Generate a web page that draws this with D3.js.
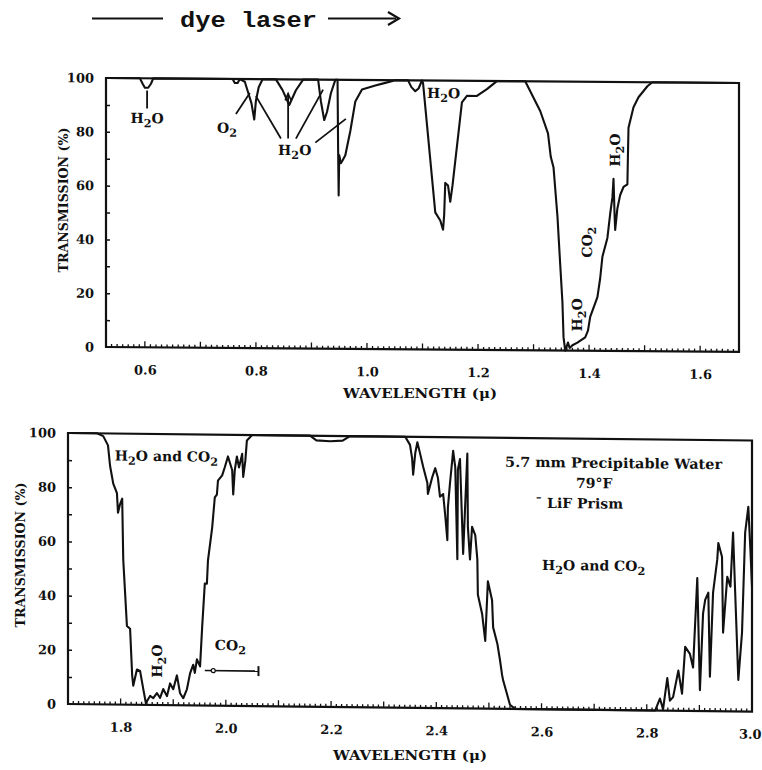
<!DOCTYPE html>
<html>
<head>
<meta charset="utf-8">
<script src="https://cdn.jsdelivr.net/npm/d3@7.9.0/dist/d3.min.js"></script>
<style>
  body { margin: 0; background: #fff; }
  text { font-family: "DejaVu Serif", serif; font-weight: bold; fill: #111; }
</style>
</head>
<body>
<svg id="chart" width="762" height="770"></svg>
<script>
// spectra: [wavelength (micron), transmission (%)]
const topSpectrum = [
  [0.530,100],[0.591,100],[0.596,98],[0.600,96.5],[0.606,96.5],[0.611,98],[0.615,100],
  [0.758,100],[0.762,98.5],[0.767,98.5],[0.771,100],
  [0.780,99],[0.786,95],[0.792,91],[0.797,85],[0.800,92],[0.805,97],[0.812,100],
  [0.836,100],[0.848,96],[0.860,90.5],[0.872,96],[0.885,100],
  [0.912,100],[0.917,92],[0.923,85],[0.928,88],[0.935,95],[0.943,100],
  [0.947,100],[0.948,75],[0.949,57],[0.950,72],[0.953,69],[0.956,70],[0.961,72],
  [0.970,81],[0.979,92],[0.991,96.5],[1.015,98],[1.033,99],[1.051,100],
  [1.074,100],[1.080,97.5],[1.087,96],[1.093,97],[1.099,100],
  [1.101,99],[1.123,51],[1.132,48],[1.137,44.6],[1.139,50],[1.141,62],[1.146,61],
  [1.150,55],[1.154,61],[1.171,92],[1.180,94.4],[1.198,94.4],[1.216,97],[1.234,100],
  [1.285,100],[1.312,89],[1.326,80.7],[1.331,72],[1.336,68],[1.343,50],[1.348,32],
  [1.352,18],[1.354,5],[1.357,0],[1.362,3],[1.365,1],[1.370,2],[1.379,3],[1.393,5],
  [1.398,7.5],[1.402,12.6],[1.415,20],[1.420,27],[1.424,35],[1.433,42],[1.438,51],
  [1.442,57],[1.444,64],[1.446,50],[1.447,45],[1.451,53],[1.456,58],[1.462,61],
  [1.469,62],[1.470,73],[1.471,83],[1.480,90.7],[1.489,94.4],[1.505,98.5],[1.514,100],
  [1.671,100]
];

const bottomSpectrum = [
  [1.700,100],[1.755,100],[1.767,99],[1.776,95.6],[1.780,88],[1.786,81.5],[1.793,78],
  [1.795,70.8],[1.799,74],[1.803,76],[1.805,53.5],[1.812,29],[1.818,28],[1.822,10.7],
  [1.824,7],[1.831,13],[1.837,12.5],[1.843,5.9],[1.848,0.7],[1.856,3.3],[1.862,2.5],
  [1.869,4.4],[1.875,2.6],[1.881,5.9],[1.888,3.3],[1.894,8],[1.900,5.9],[1.907,11],
  [1.913,4.4],[1.919,2.6],[1.926,5.9],[1.932,11.8],[1.938,15],[1.941,12],[1.945,17],
  [1.951,14.4],[1.955,29],[1.960,45],[1.964,45],[1.966,53.5],[1.974,65.7],[1.979,76.8],
  [1.983,77.9],[1.985,83],[1.993,85],[1.998,88],[2.004,92],[2.012,87],[2.014,78],
  [2.017,87],[2.021,92],[2.025,88],[2.031,93],[2.033,84.5],[2.037,90.4],[2.040,98],
  [2.050,100],
  [2.160,100],[2.172,98.3],[2.198,98],[2.222,98.3],[2.236,100],
  [2.341,100],[2.350,97],[2.354,92],[2.356,86],[2.360,94],[2.364,98],[2.369,94],
  [2.375,89],[2.383,83],[2.384,79],[2.392,85],[2.398,88.5],[2.403,85],[2.407,78],
  [2.413,79],[2.417,71],[2.421,62],[2.422,74],[2.426,83],[2.432,95],[2.436,89],
  [2.440,55],[2.441,88],[2.445,92],[2.451,57],[2.459,94],[2.460,67],[2.464,55],
  [2.468,67],[2.474,64],[2.478,55],[2.479,42],[2.487,35],[2.493,25],[2.498,47],
  [2.506,40],[2.508,30],[2.516,24],[2.521,18],[2.525,12.5],[2.527,10.5],[2.535,5],
  [2.540,1.5],[2.550,0],
  [2.816,0],[2.825,4.4],[2.831,0.5],[2.839,12],[2.844,3.7],[2.850,5],[2.860,14.8],
  [2.867,6.3],[2.873,23.6],[2.882,21],[2.888,16],[2.896,49],[2.901,7.7],[2.907,36],
  [2.911,41],[2.917,43.7],[2.920,12.7],[2.926,43.7],[2.934,56],[2.936,62],[2.943,57],
  [2.945,29],[2.953,49.6],[2.959,46],[2.964,66],[2.968,44],[2.974,11.6],[2.981,29],
  [2.987,66],[2.993,75.5],[2.997,59.6],[3.000,46]
];

const yTicks = [0, 20, 40, 60, 80, 100];
const topXTicks = [0.6, 0.8, 1.0, 1.2, 1.4, 1.6];
const bottomXTicks = [1.8, 2.0, 2.2, 2.4, 2.6, 2.8, 3.0];
const tickLabel = d3.format(".1f");

// labels: "_2" is a subscript
const topNotes = [
  { text: "H_2O", at: [0.604, 83.3], anchor: "middle" },
  { text: "O_2", at: [0.730, 80] },
  { text: "H_2O", at: [0.840, 71.9] },
  { text: "H_2O", at: [1.108, 93.5] },
  { text: "H_2O", at: [1.379, 13.3], rotate: -90 },
  { text: "CO_2", at: [1.397, 40.4], rotate: -90 },
  { text: "H_2O", at: [1.447, 74.7], rotate: -90 }
];
const topPointers = [
  [[0.604, 88.8], [0.604, 95.5]],
  [[0.764, 87], [0.789, 94.8]],
  [[0.845, 78], [0.800, 93.7]],
  [[0.858, 78], [0.858, 94.8]],
  [[0.872, 78], [0.921, 96.3]],
  [[0.907, 76.6], [0.962, 85.5]]
];
const bottomNotes = [
  { text: "H_2O and CO_2", at: [1.789, 90] },
  { text: "H_2O", at: [1.869, 16.2], rotate: -90 },
  { text: "CO_2", at: [1.979, 20.5] },
  { text: "5.7 mm Precipitable Water", at: [2.737, 89.3], anchor: "middle", width: 217 },
  { text: "79°F", at: [2.700, 81.8], anchor: "middle" },
  { text: "¯ LiF Prism", at: [2.588, 74.3] },
  { text: "H_2O and CO_2", at: [2.601, 51.4] }
];
const co2Range = [1.960, 2.062, 12.9];

const svg = d3.select("#chart");

function addLabel(g, str, px, py, opt = {}) {
  const size = opt.size || 14;
  const t = g.append("text")
    .attr("font-size", size)
    .attr("text-anchor", opt.anchor || (opt.rotate ? "middle" : "start"));
  if (opt.rotate) {
    t.attr("transform", `translate(${px},${py}) rotate(${opt.rotate})`).attr("x", 0).attr("y", 5);
  } else {
    t.attr("x", px).attr("y", py);
  }
  let down = false;
  str.split(/(_\d)/).filter(s => s).forEach(s => {
    if (s[0] === "_") {
      t.append("tspan").attr("dy", 4).attr("font-size", size * 0.8).text(s.slice(1));
      down = true;
    } else {
      t.append("tspan").attr("dy", down ? -4 : 0).text(s);
      down = false;
    }
  });
  if (opt.width) t.attr("textLength", opt.width).attr("lengthAdjust", "spacingAndGlyphs");
  return t;
}

function panel(cfg) {
  const g = svg.append("g")
    .attr("transform", `translate(${cfg.left},${cfg.top}) skewY(${cfg.skew}) translate(${-cfg.left},${-cfg.top})`);
  const x = d3.scaleLinear().domain(cfg.xDomain).range([cfg.left, cfg.right]);
  const y = d3.scaleLinear().domain([0, 100]).range([cfg.bottom, cfg.top]);

  // minor ticks along the bottom edge, pointing in
  const minor = d3.range(Math.ceil(cfg.xDomain[0] * 100), Math.floor(cfg.xDomain[1] * 100) + 1).map(d => d / 100);
  g.append("g").selectAll("line").data(minor).join("line")
    .attr("x1", d => x(d)).attr("x2", d => x(d))
    .attr("y1", cfg.bottom)
    .attr("y2", d => cfg.bottom - (Math.round(d * 100) % 10 === 0 ? 6 : 3))
    .attr("stroke", "#111").attr("stroke-width", 1.3);

  // inner ticks on the left edge
  g.append("g").attr("transform", `translate(${cfg.left},0)`)
    .call(d3.axisLeft(y).tickValues(d3.range(10, 100, 10)).tickSize(-4).tickFormat(""))
    .call(a => a.select(".domain").remove())
    .selectAll("line").attr("stroke", "#111").attr("stroke-width", 1.5);

  // tick labels
  const ya = g.append("g").attr("transform", `translate(${cfg.left},0)`)
    .call(d3.axisLeft(y).tickValues(yTicks).tickSize(0).tickPadding(12))
    .call(a => a.select(".domain").remove());
  ya.attr("font-family", null).attr("font-size", 13);

  const xa = g.append("g").attr("transform", `translate(0,${cfg.bottom})`)
    .call(d3.axisBottom(x).tickValues(cfg.xTicks).tickSize(0).tickPadding(18).tickFormat(tickLabel))
    .call(a => a.select(".domain").remove());
  xa.attr("font-family", null).attr("font-size", 13);
  // keep a label that sits on the right edge inside the page
  xa.selectAll(".tick text").filter(d => x(d) > 745)
    .attr("text-anchor", "end").attr("dx", 9);

  // frame
  g.append("rect")
    .attr("x", cfg.left).attr("y", cfg.top)
    .attr("width", cfg.right - cfg.left).attr("height", cfg.bottom - cfg.top)
    .attr("fill", "none").attr("stroke", "#111").attr("stroke-width", 2.2);

  // spectrum
  const line = d3.line().x(d => x(d[0])).y(d => y(d[1]));
  g.append("path").datum(cfg.data)
    .attr("d", line)
    .attr("fill", "none").attr("stroke", "#111")
    .attr("stroke-width", 2.1).attr("stroke-linejoin", "round");

  cfg.notes.forEach(n => addLabel(g, n.text, x(n.at[0]), y(n.at[1]), n));

  // axis titles
  addLabel(svg, "WAVELENGTH (μ)", cfg.xTitle[0], cfg.xTitle[1], { anchor: "middle", size: 13, width: 154 });
  addLabel(svg, "TRANSMISSION (%)", cfg.yTitle[0], cfg.yTitle[1], { rotate: -90, size: 13, width: 145 });

  return { g, x, y };
}

const topPanel = panel({
  left: 106, right: 739, top: 78, bottom: 347, skew: 0.45,
  xDomain: [0.53, 1.67], xTicks: topXTicks, data: topSpectrum, notes: topNotes,
  xTitle: [420, 398], yTitle: [63, 200]
});

topPanel.g.append("g").selectAll("line").data(topPointers).join("line")
  .attr("x1", d => topPanel.x(d[0][0])).attr("y1", d => topPanel.y(d[0][1]))
  .attr("x2", d => topPanel.x(d[1][0])).attr("y2", d => topPanel.y(d[1][1]))
  .attr("stroke", "#111").attr("stroke-width", 1.8);
// arrowhead on the pointer that goes straight up
const tip = topPointers[3][1];
const tx = topPanel.x(tip[0]), ty = topPanel.y(tip[1]);
topPanel.g.append("path")
  .attr("d", `M${tx - 3},${ty + 7}L${tx},${ty}L${tx + 3},${ty + 7}`)
  .attr("fill", "none").attr("stroke", "#111").attr("stroke-width", 1.6);

const botPanel = panel({
  left: 68, right: 752, top: 433, bottom: 704, skew: 0.63,
  xDomain: [1.70, 3.00], xTicks: bottomXTicks, data: bottomSpectrum, notes: bottomNotes,
  xTitle: [410, 760], yTitle: [20, 555]
});

// CO2 range bar
const [c0, c1, cT] = co2Range;
botPanel.g.append("line")
  .attr("x1", botPanel.x(c0)).attr("x2", botPanel.x(c1)).attr("y1", botPanel.y(cT)).attr("y2", botPanel.y(cT))
  .attr("stroke", "#111").attr("stroke-width", 1.6);
botPanel.g.append("line")
  .attr("x1", botPanel.x(c1)).attr("x2", botPanel.x(c1)).attr("y1", botPanel.y(cT) - 5).attr("y2", botPanel.y(cT) + 5)
  .attr("stroke", "#111").attr("stroke-width", 2);
botPanel.g.append("circle")
  .attr("cx", botPanel.x(c0 + 0.016)).attr("cy", botPanel.y(cT)).attr("r", 2)
  .attr("fill", "#fff").attr("stroke", "#111").attr("stroke-width", 1.2);

// header: dye laser range arrow
svg.append("text")
  .attr("x", 180).attr("y", 27)
  .attr("font-size", 22).attr("textLength", 137).attr("lengthAdjust", "spacingAndGlyphs")
  .style("font-family", "'Liberation Mono', monospace").style("font-weight", "bold")
  .text("dye laser");
svg.append("line").attr("x1", 92).attr("x2", 163).attr("y1", 18.5).attr("y2", 18.5)
  .attr("stroke", "#111").attr("stroke-width", 2.2);
svg.append("line").attr("x1", 328).attr("x2", 396).attr("y1", 18.5).attr("y2", 18.5)
  .attr("stroke", "#111").attr("stroke-width", 2.2);
svg.append("path").attr("d", "M388,12L399,18.5L388,25")
  .attr("fill", "none").attr("stroke", "#111").attr("stroke-width", 2.2);
</script>
</body>
</html>
